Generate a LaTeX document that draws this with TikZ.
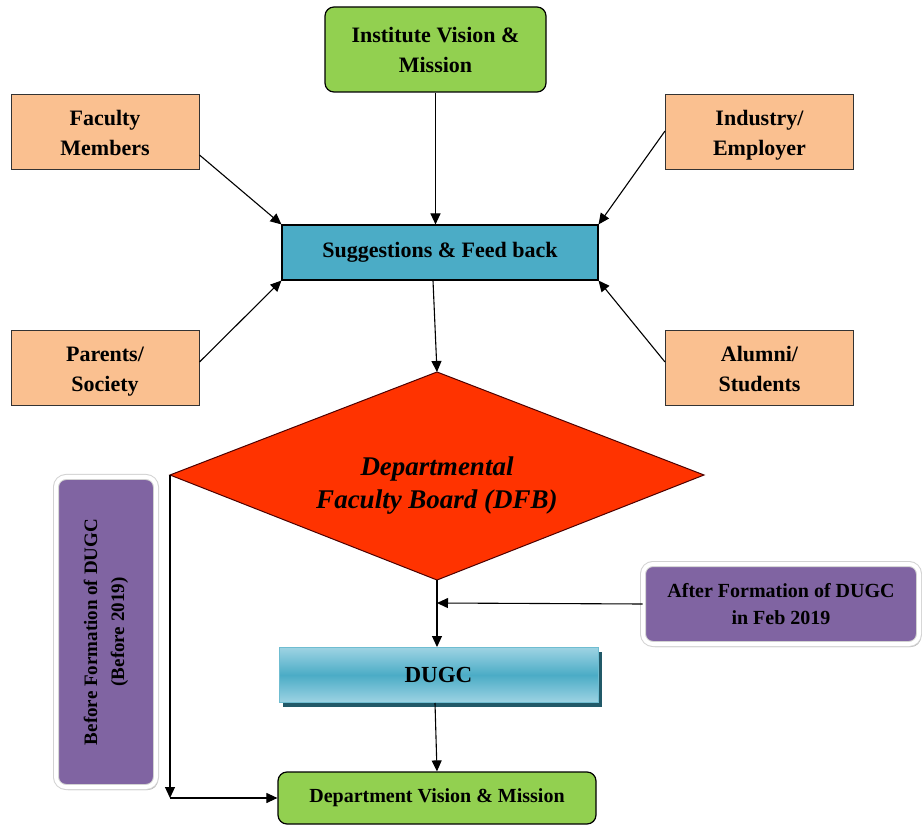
\documentclass[tikz,border=0pt]{standalone}
\usepackage{fontspec}
\setmainfont{Liberation Serif}
\usetikzlibrary{arrows.meta,shapes.geometric,shadows}
\definecolor{peach}{HTML}{FAC090}
\definecolor{lgreen}{HTML}{92D050}
\definecolor{tealblue}{HTML}{4BACC6}
\definecolor{lpurple}{HTML}{8064A2}
\definecolor{redor}{HTML}{FF3300}
\definecolor{lightblue}{HTML}{9DD3E3}
\definecolor{darkteal}{HTML}{215968}
\newcommand{\sra}{\rule[-7pt]{0pt}{31pt}}
\newcommand{\srb}{\rule[-7pt]{0pt}{23pt}}
\begin{document}
\begin{tikzpicture}[x=1pt,y=-1pt,
  every node/.style={font=\bfseries, align=center, inner sep=0pt},
  fsz/.style={font=\fontsize{#1}{30}\selectfont\bfseries},
  peachbox/.style={draw=black!80, line width=1pt, fill=peach, minimum width=188pt, minimum height=75pt, fsz=22},
  greenbox/.style={draw=black, line width=1.2pt, fill=lgreen, rounded corners=9pt},
  purplebox/.style={fill=lpurple, rounded corners=10pt, draw=gray!35, double=white, double distance=4pt, line width=1pt,
     drop shadow={shadow xshift=2pt, shadow yshift=-3pt, fill=gray!55, opacity=1}},
  arr/.style={-{Triangle[length=11pt,width=10pt]}, line width=1.1pt, black}
]
\useasboundingbox (0,0) rectangle (922,826);

\node[greenbox, minimum width=221pt, minimum height=85pt, fsz=22] (inst) at (435.5,49.5) {Institute Vision \&\\Mission};
\node[peachbox] (fac) at (105,132.5) {\sra Faculty\\\srb Members};
\node[peachbox] (ind) at (759.5,132.5) {\sra Industry/\\\srb Employer};
\node[draw=black, line width=1.1pt, fill=tealblue, minimum width=316pt, minimum height=55pt, fsz=22] (sug) at (440,252.5) {Suggestions \& Feed back};
\node[peachbox] (par) at (105,368.5) {\sra Parents/\\\srb Society};
\node[peachbox] (alu) at (759.5,368.5) {\sra Alumni/\\\srb Students};

% diamond
\coordinate (dT) at (437,372);
\coordinate (dR) at (704,475);
\coordinate (dB) at (437,580);
\coordinate (dL) at (170,475);
\draw[fill=redor, draw=black!70!red, line width=1pt] (dT) -- (dR) -- (dB) -- (dL) -- cycle;
\node[font=\fontsize{27}{33}\selectfont\bfseries\itshape] (dfb) at (437,486) {Departmental\\Faculty Board (DFB)};

% purple boxes
\node[purplebox, minimum width=100pt, minimum height=310pt] (bef) at (106,632) {};
\node[rotate=90, font=\fontsize{19}{27}\selectfont\bfseries] at (bef.center) {Before Formation of DUGC\\(Before 2019)};
\node[purplebox, minimum width=276pt, minimum height=80pt, font=\fontsize{20}{27}\selectfont\bfseries] (aft) at (781,604) {After Formation of DUGC\\in Feb 2019};

% DUGC
\fill[darkteal] (283,652) rectangle (602,707);
\node[top color=lightblue, bottom color=lightblue, middle color=tealblue, draw=tealblue!80!white, line width=1pt,
   minimum width=319pt, minimum height=55pt, fsz=23] (dugc) at (438.5,675) {DUGC};

\node[greenbox, minimum width=318pt, minimum height=52pt, fsz=20] (dept) at (437,798) {Department Vision \& Mission};

% arrows
\draw[arr] (inst.south) -- (sug.north -| inst.south);
\draw[arr] (fac.east |- 0,155) -- (sug.north west);
\draw[arr] (ind.west |- 0,131) -- (sug.north east);
\draw[arr] (par.east |- 0,362) -- (sug.south west);
\draw[arr] (alu.west |- 0,362) -- (sug.south east);
\draw[arr] (sug.south -| 433,0) -- (dT);
\draw[arr] (dB) -- (dugc.north -| dB);
\coordinate (mid) at (437,603);
\draw[arr] (aft.west) -- (mid);
\draw[arr] (dugc.south -| 435,0) -- (dept.north -| 437,0);
\coordinate (lb) at (170,798);
\draw[arr] (dL) -- (lb);
\draw[arr] (lb) -- (dept.west);
\end{tikzpicture}
\end{document}
